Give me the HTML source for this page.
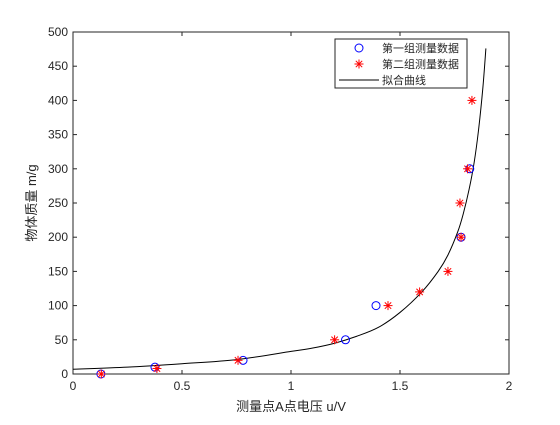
<!DOCTYPE html>
<html><head><meta charset="utf-8"><style>
body{margin:0;background:#fff;}
svg text{font-family:"Liberation Sans","Noto Sans CJK SC",sans-serif;fill:#262626;}
</style></head><body>
<svg id="chart" width="560" height="420" xmlns="http://www.w3.org/2000/svg"></svg>
<script>
const xTicks=[0,0.5,1,1.5,2];
const xTickLabels=["0","0.5","1","1.5","2"];
const yTicks=[0,50,100,150,200,250,300,350,400,450,500];
const s1x=[0.128,0.376,0.78,1.25,1.39,1.78,1.82];
const s1y=[0,10,20,50,100,200,300];
const s2x=[0.13,0.385,0.757,1.20,1.445,1.59,1.72,1.78,1.775,1.81,1.83];
const s2y=[0,8,20,50,100,120,150,200,250,300,400];
const fitX=[0,0.25,0.5,0.75,1.0,1.1,1.2,1.3,1.4,1.5,1.6,1.675,1.72,1.765,1.79,1.817,1.84,1.86,1.88,1.894];
const fitY=[7,10,15,21,33,38,45,55,68,90,120,150,174,208,234,270,309,356,418,476];
const L=73,R=509,T=32,B=374;
const X=v=>L+(v-0)/(2-0)*(R-L);
const Y=v=>B-(v/500)*(B-T);
const svg=document.getElementById('chart');
const NS='http://www.w3.org/2000/svg';
function el(t,a,p){const e=document.createElementNS(NS,t);for(const k in a)e.setAttribute(k,a[k]);(p||svg).appendChild(e);return e;}
const box=el('rect',{x:L,y:T,width:R-L,height:B-T,fill:'#fff',stroke:'#262626','stroke-width':1});


xTicks.forEach((v,i)=>{
 el('line',{x1:X(v),x2:X(v),y1:B,y2:B-4,stroke:'#262626'});
 el('line',{x1:X(v),x2:X(v),y1:T,y2:T+4,stroke:'#262626'});
 const t=el('text',{x:X(v),y:B+16,'text-anchor':'middle','font-size':'12'});t.textContent=xTickLabels[i];
 
 
});
yTicks.forEach(v=>{
 el('line',{x1:L,x2:L+4,y1:Y(v),y2:Y(v),stroke:'#262626'});
 el('line',{x1:R,x2:R-4,y1:Y(v),y2:Y(v),stroke:'#262626'});
 const t=el('text',{x:L-5,y:Y(v)+4,'text-anchor':'end','font-size':'12'});t.textContent=v;
 
 
});
const xt=el('text',{x:(L+R)/2,y:411,'text-anchor':'middle','font-size':'13'});xt.textContent='测量点A点电压 u/V';


const yt=el('text',{x:0,y:0,'text-anchor':'middle','font-size':'13',transform:`translate(36,${(T+B)/2}) rotate(-90)`});yt.textContent='物体质量 m/g';


const P=fitX.map((x,i)=>[X(x),Y(fitY[i])]);
let d='M'+P[0][0]+','+P[0][1];
for(let i=0;i<P.length-1;i++){
 const p0=P[Math.max(0,i-1)],p1=P[i],p2=P[i+1],p3=P[Math.min(P.length-1,i+2)];
 const c1=[p1[0]+(p2[0]-p0[0])/6,p1[1]+(p2[1]-p0[1])/6];
 const c2=[p2[0]-(p3[0]-p1[0])/6,p2[1]-(p3[1]-p1[1])/6];
 d+=` C${c1[0]},${c1[1]} ${c2[0]},${c2[1]} ${p2[0]},${p2[1]}`;
}
const fit=el('path',{d:d,fill:'none',stroke:'#000','stroke-width':1});


s1x.forEach((x,i)=>{const c=el('circle',{cx:X(x),cy:Y(s1y[i]),r:4,fill:'none',stroke:'#0000ff','stroke-width':1});
 
 });
function star(cx,cy,g){const r=4.5;
 el('line',{x1:cx-r,x2:cx+r,y1:cy,y2:cy,stroke:'#ff0000'},g);
 el('line',{x1:cx,x2:cx,y1:cy-r,y2:cy+r,stroke:'#ff0000'},g);
 el('line',{x1:cx-3.2,x2:cx+3.2,y1:cy-3.2,y2:cy+3.2,stroke:'#ff0000'},g);
 el('line',{x1:cx-3.2,x2:cx+3.2,y1:cy+3.2,y2:cy-3.2,stroke:'#ff0000'},g);}
s2x.forEach((x,i)=>{const g=el('g',{});
 
 
 star(X(x),Y(s2y[i]),g);});
const lg=el('g',{});


el('rect',{x:335,y:39,width:132,height:49,fill:'#fff',stroke:'#262626'},lg);
el('circle',{cx:359,cy:48,r:4,fill:'none',stroke:'#0000ff'},lg);
star(359,64,lg);
el('line',{x1:339,x2:379,y1:80,y2:80,stroke:'#000'},lg);
[['第一组测量数据',52],['第二组测量数据',68],['拟合曲线',84]].forEach(([s,y])=>{const t=el('text',{x:382,y:y,'font-size':'11'},lg);t.textContent=s;
 
 });
</script>
</body></html>
